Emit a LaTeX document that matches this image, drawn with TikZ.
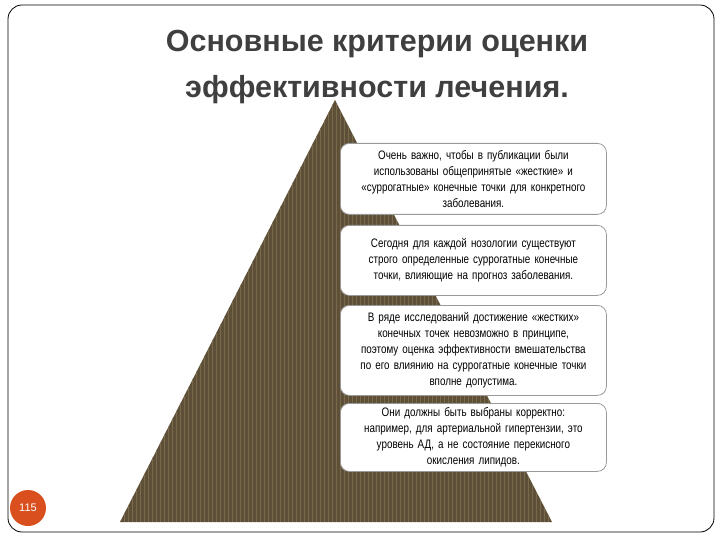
\documentclass[tikz,border=0pt]{standalone}
\usepackage{fontspec}
\setmainfont{Liberation Sans}
\newfontfamily\narrow[FakeStretch=0.8]{Liberation Sans}
\definecolor{pyr}{HTML}{5E5038}
\definecolor{pyrl}{HTML}{7A6A4C}
\definecolor{ttl}{HTML}{3F3F3F}
\definecolor{num}{HTML}{D9501E}
\tikzset{
 tbox/.style={draw=gray!80,line width=0.8pt,rounded corners=9pt,fill=white,minimum width=266pt,text width=264pt,align=center,font=\narrow\fontsize{12.3}{16}\selectfont,anchor=north west,inner sep=1pt},
}
\begin{document}
\begin{tikzpicture}[x=1pt,y=-1pt]
\useasboundingbox (0,0) rectangle (720,540);
\draw[line width=0.8pt,rounded corners=14pt] (8,5) -- (714,5) -- (714,532) -- (8,532) -- cycle;
% pyramid
\fill[pyr] (335,100) -- (552,522) -- (120,522) -- cycle;
\begin{scope}
\clip (335,100) -- (552,522) -- (120,522) -- cycle;
\foreach \x in {120,124,...,552} \draw[pyrl,line width=0.8pt] (\x,100) -- (\x,522);
\end{scope}
% title
\node[font=\bfseries\fontsize{30.5}{46}\selectfont,text=ttl,align=center] (title) at (377,67) {Основные критерии оценки\\эффективности лечения.};
% boxes
\node[tbox,minimum height=71pt] (b1) at (340,143) {Очень важно, чтобы в публикации были\\использованы общепринятые «жесткие» и\\«суррогатные» конечные точки для конкретного\\заболевания.};
\node[tbox,minimum height=70pt] (b2) at (340,225) {Сегодня для каждой нозологии существуют\\строго определенные суррогатные конечные\\точки, влияющие на прогноз заболевания.};
\node[tbox,minimum height=90pt] (b3) at (340,305) {В ряде исследований достижение «жестких»\\конечных точек невозможно в принципе,\\поэтому оценка эффективности вмешательства\\по его влиянию на суррогатные конечные точки\\вполне допустима.};
\node[tbox,minimum height=68pt] (b4) at (340,403) {Они должны быть выбраны корректно:\\например, для артериальной гипертензии, это\\уровень АД, а не состояние перекисного\\окисления липидов.};
\node[circle,fill=num,minimum size=36pt,inner sep=0pt,text=white,font=\fontsize{11}{13}\selectfont] (pg) at (28,508) {115};
\end{tikzpicture}
\end{document}
